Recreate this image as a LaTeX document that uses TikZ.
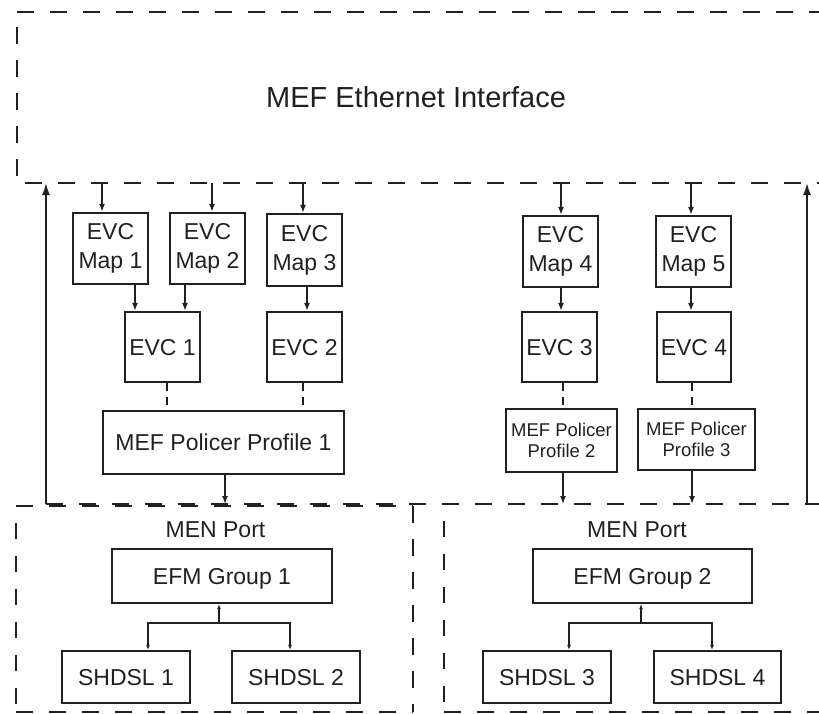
\documentclass[tikz,border=0pt]{standalone}
\usepackage{fontspec}
\setmainfont{Liberation Sans}
\usetikzlibrary{arrows.meta}
\definecolor{ink}{HTML}{231F20}
\begin{document}
\begin{tikzpicture}[x=1pt,y=-1pt,
  box/.style={draw=ink, line width=2.2pt, rectangle, inner sep=0pt, text=ink, align=center, font=\fontsize{23}{29}\selectfont},
  one/.style={text height=16.5pt, text depth=0pt},
  small/.style={font=\fontsize{18.5}{21.5}\selectfont},
  dsh/.style={draw=ink, line width=2.2pt, dash pattern=on 16.5pt off 16.5pt},
  arr/.style={draw=ink, line width=1.5pt, -{Latex[length=8pt,width=6pt]}},
  bigarr/.style={draw=ink, line width=1.8pt, -{Latex[length=12pt,width=8pt]}},
  sarr/.style={draw=ink, line width=1.5pt, -{Latex[length=5pt,width=4pt]}},
  conn/.style={draw=ink, line width=1.5pt, dash pattern=on 8pt off 6pt},
  lbl/.style={text=ink, inner sep=0pt, anchor=base}
]
\useasboundingbox (0,0) rectangle (819,713);

% ---- dashed frames ----
% top box (MEF Ethernet Interface)
\draw[dsh] (17,12) -- (830,12);
\draw[dsh, dash phase=18pt] (17,12) -- (17,183);
\draw[dsh, dash phase=25pt] (17,183) -- (830,183);
% middle region bottom
\draw[dsh] (46,504) -- (807,504);
% left MEN port
\draw[dsh] (16,506) -- (413,506);
\draw[dsh] (413,506) -- (413,712);
\draw[dsh, dash phase=16.5pt] (16,506) -- (16,712);
\draw[dsh] (16,712) -- (413,712);
% right MEN port
\draw[dsh, dash phase=2pt] (444,504) -- (830,504);
\draw[dsh, dash phase=16.5pt] (444,504) -- (444,712);
\draw[dsh] (444,712) -- (830,712);

\coordinate (ethb) at (0,183);
\coordinate (midb) at (0,504);

% ---- labels ----
\node[lbl, font=\fontsize{29}{34}\selectfont] (title) at (416,107) {MEF Ethernet Interface};
\node[lbl, font=\fontsize{23}{28}\selectfont] (men1) at (215.5,537) {MEN Port};
\node[lbl, font=\fontsize{23}{28}\selectfont] (men2) at (637,537) {MEN Port};

% ---- boxes ----
\node[box, minimum width=75pt, minimum height=71pt] (m1) at (110.5,248.5) {EVC\\Map 1};
\node[box, minimum width=75pt, minimum height=71pt] (m2) at (207.5,248.5) {EVC\\Map 2};
\node[box, minimum width=75pt, minimum height=72pt] (m3) at (304.5,250) {EVC\\Map 3};
\node[box, minimum width=75pt, minimum height=71pt] (m4) at (560.5,251.5) {EVC\\Map 4};
\node[box, minimum width=75pt, minimum height=71pt] (m5) at (693.5,251.5) {EVC\\Map 5};

\node[box, one, minimum width=75pt, minimum height=70pt] (e1) at (162.5,347) {EVC 1};
\node[box, one, minimum width=75pt, minimum height=70pt] (e2) at (304.5,347) {EVC 2};
\node[box, one, minimum width=75pt, minimum height=70pt] (e3) at (559.5,347) {EVC 3};
\node[box, one, minimum width=74pt, minimum height=70pt] (e4) at (694,347) {EVC 4};

\node[box, one, minimum width=241pt, minimum height=63pt] (p1) at (223.5,442.5) {MEF Policer Profile 1};
\node[box, small, minimum width=111pt, minimum height=63pt] (p2) at (561.5,440.5) {MEF Policer\\Profile 2};
\node[box, small, minimum width=117pt, minimum height=61pt] (p3) at (696.5,439.5) {MEF Policer\\Profile 3};

\node[box, one, minimum width=220pt, minimum height=54pt] (g1) at (222,576) {EFM Group 1};
\node[box, one, minimum width=219pt, minimum height=54pt] (g2) at (642.5,576) {EFM Group 2};

\node[box, one, minimum width=128pt, minimum height=52pt] (s1) at (126,677) {SHDSL 1};
\node[box, one, minimum width=128pt, minimum height=52pt] (s2) at (296,677) {SHDSL 2};
\node[box, one, minimum width=128pt, minimum height=52pt] (s3) at (547,677) {SHDSL 3};
\node[box, one, minimum width=127pt, minimum height=52pt] (s4) at (717.5,677) {SHDSL 4};

% ---- big side arrows ----
\coordinate (la) at (46,504);
\coordinate (ra) at (807,504);
\draw[bigarr] (la) -- (la |- ethb);
\draw[bigarr] (ra) -- (ra |- ethb);

% ---- arrows from interface to maps ----
\coordinate (t1) at (102,0);
\coordinate (t2) at (212,0);
\coordinate (t3) at (303,0);
\coordinate (t4) at (561,0);
\coordinate (t5) at (691,0);
\draw[arr] (t1 |- ethb) -- (t1 |- m1.north);
\draw[arr] (t2 |- ethb) -- (t2 |- m2.north);
\draw[arr] (t3 |- ethb) -- (t3 |- m3.north);
\draw[arr] (t4 |- ethb) -- (t4 |- m4.north);
\draw[arr] (t5 |- ethb) -- (t5 |- m5.north);

% ---- maps to EVCs ----
\coordinate (u1) at (135,0);
\coordinate (u2) at (185,0);
\coordinate (u3) at (307,0);
\coordinate (u4) at (561,0);
\coordinate (u5) at (691,0);
\draw[arr] (u1 |- m1.south) -- (u1 |- e1.north);
\draw[arr] (u2 |- m2.south) -- (u2 |- e1.north);
\draw[arr] (u3 |- m3.south) -- (u3 |- e2.north);
\draw[arr] (u4 |- m4.south) -- (u4 |- e3.north);
\draw[arr] (u5 |- m5.south) -- (u5 |- e4.north);

% ---- EVCs to policer profiles (dashed) ----
\coordinate (v1) at (167,0);
\coordinate (v2) at (303,0);
\coordinate (v3) at (563,0);
\coordinate (v4) at (692,0);
\draw[conn] (v1 |- e1.south) -- (v1 |- p1.north);
\draw[conn] (v2 |- e2.south) -- (v2 |- p1.north);
\draw[conn] (v3 |- e3.south) -- (v3 |- p2.north);
\draw[conn] (v4 |- e4.south) -- (v4 |- p3.north);

% ---- profiles down to MEN ports ----
\coordinate (w1) at (225,0);
\coordinate (w2) at (563,0);
\coordinate (w3) at (692,0);
\draw[arr] (w1 |- p1.south) -- (w1 |- midb);
\draw[arr] (w2 |- p2.south) -- (w2 |- midb);
\draw[arr] (w3 |- p3.south) -- (w3 |- midb);

% ---- EFM groups to SHDSL ----
\coordinate (j1) at (219,623);
\coordinate (k1) at (148,623);
\coordinate (k2) at (290,623);
\draw[sarr] (j1) -- (j1 |- g1.south);
\draw[sarr] (j1) -| (k1 |- s1.north);
\draw[sarr] (j1) -| (k2 |- s2.north);

\coordinate (j2) at (641,623);
\coordinate (k3) at (569,623);
\coordinate (k4) at (712,623);
\draw[sarr] (j2) -- (j2 |- g2.south);
\draw[sarr] (j2) -| (k3 |- s3.north);
\draw[sarr] (j2) -| (k4 |- s4.north);
\end{tikzpicture}
\end{document}
